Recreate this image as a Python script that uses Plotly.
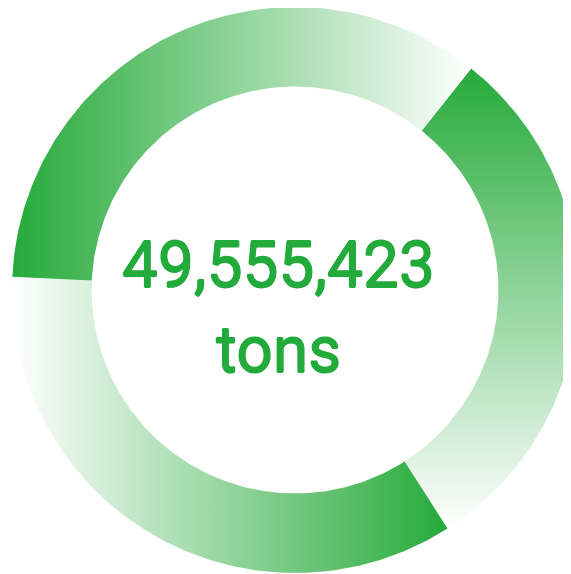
import numpy as np
import plotly.graph_objects as go

# ---- data ----
segment_names = ["Segment A", "Segment B", "Segment C"]
segment_values = [30.25, 34.8, 34.95]          # share of the ring (percent)
start_angle_deg = 38.5                          # clockwise from 12 o'clock
total_label = "49,555,423"
unit_label = "tons"

# ---- styling ----
DARK = "rgb(38,170,58)"
WHITE = "rgb(255,255,255)"
TEXT_COLOR = "#22ab3b"
R_OUT = 1.0
R_IN = 0.719
PX = 283.0  # pixels per unit radius
gradients = [
    dict(type="vertical", colorscale=[[0, WHITE], [1, DARK]]),
    dict(type="horizontal", colorscale=[[0, WHITE], [1, DARK]]),
    dict(type="horizontal", colorscale=[[0, DARK], [1, WHITE]]),
]

fig = go.Figure()
total = sum(segment_values)
a0 = start_angle_deg
for name, val, grad in zip(segment_names, segment_values, gradients):
    a1 = a0 + 360.0 * val / total
    th = np.radians(np.linspace(a0, a1, 200))
    xs = np.concatenate([R_OUT * np.sin(th), R_IN * np.sin(th[::-1])])
    ys = np.concatenate([R_OUT * np.cos(th), R_IN * np.cos(th[::-1])])
    xs = np.append(xs, xs[0])
    ys = np.append(ys, ys[0])
    fig.add_trace(go.Scatter(
        x=xs, y=ys, mode="lines", line=dict(width=0, color=DARK),
        fill="toself", fillgradient=grad, name=name,
        hoverinfo="name", showlegend=False,
    ))
    a0 = a1

thicken = ("0.6px 0 0 {c}, -0.6px 0 0 {c}, 0 0.6px 0 {c}, 0 -0.6px 0 {c}"
           .format(c=TEXT_COLOR))
text_font = dict(family="Roboto", size=64, color=TEXT_COLOR, shadow=thicken)

fig.add_annotation(x=-0.06, y=0.085, xref="x", yref="y", text=total_label,
                   showarrow=False, xanchor="center", yanchor="middle",
                   font=text_font)
fig.add_annotation(x=-0.06, y=-0.212, xref="x", yref="y", text=unit_label,
                   showarrow=False, xanchor="center", yanchor="middle",
                   font=text_font)

fig.update_layout(
    width=571, height=574,
    margin=dict(l=0, r=0, t=0, b=0),
    paper_bgcolor="white", plot_bgcolor="white",
    xaxis=dict(range=[-287 / PX, 284 / PX], visible=False, fixedrange=True),
    yaxis=dict(range=[-292 / PX, 282 / PX], visible=False, fixedrange=True),
)
fig.write_html("out.html")
